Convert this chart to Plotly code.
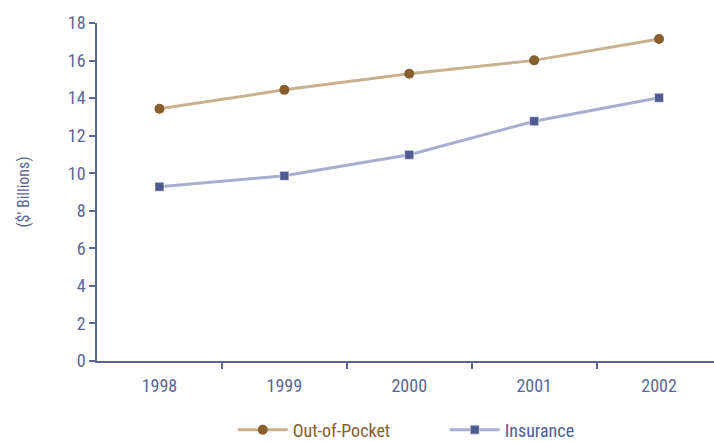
import plotly.graph_objects as go

# Spending by payer, 1998-2002 ($ billions)
years = [1998, 1999, 2000, 2001, 2002]
year_labels = ["1998", "1999", "2000", "2001", "2002"]
out_of_pocket = [13.43, 14.44, 15.30, 16.01, 17.15]
insurance = [9.28, 9.86, 10.98, 12.77, 14.02]
y_ticks = [0, 2, 4, 6, 8, 10, 12, 14, 16, 18]

AXIS = "#5a6796"
OOP_LINE = "#cbb08f"
OOP_MARK = "#87602d"
INS_LINE = "#a9aed0"
INS_MARK = "#4f5c92"
FONT = "Liberation Sans Narrow, Roboto Condensed, Arial Narrow, sans-serif"

W, H = 714, 441
ML, MR, MT, MB = 97, 0, 23, 80
plot_w = W - ML - MR

# one category band per year; the last band runs past the right edge
band_px = 124.9
x_lo = years[0] - 0.5
x_hi = x_lo + plot_w / band_px
band_edges = [y + 0.5 for y in years[:-1]]

fig = go.Figure()
fig.add_trace(go.Scatter(
    x=years, y=out_of_pocket, mode="lines+markers",
    name="<span style='color:%s'>Out-of-Pocket</span>" % OOP_MARK,
    line=dict(color=OOP_LINE, width=3),
    marker=dict(symbol="circle", size=10, color=OOP_MARK),
))
fig.add_trace(go.Scatter(
    x=years, y=insurance, mode="lines+markers",
    name="<span style='color:%s'>Insurance</span>" % INS_MARK,
    line=dict(color=INS_LINE, width=3),
    marker=dict(symbol="square", size=9, color=INS_MARK,
                line=dict(color="white", width=0.5)),
))

fig.update_layout(
    width=W, height=H,
    margin=dict(l=ML, r=MR, t=MT, b=MB, autoexpand=False),
    paper_bgcolor="white", plot_bgcolor="white",
    font=dict(family=FONT, color=AXIS, size=18),
    showlegend=True,
    legend=dict(
        orientation="h", xref="paper", x=0.22, xanchor="left",
        yref="container", y=0.025, yanchor="middle",
        font=dict(size=18, family=FONT), itemwidth=50, entrywidth=147,
        tracegroupgap=0, bgcolor="rgba(0,0,0,0)",
    ),
    xaxis=dict(
        range=[x_lo, x_hi], showgrid=False, zeroline=False,
        showline=True, linecolor=AXIS, linewidth=1.5,
        tickmode="array", tickvals=years, ticktext=year_labels, ticks="",
        ticklabelstandoff=8,
        minor=dict(tickmode="array", tickvals=band_edges, ticks="outside",
                   ticklen=6, tickcolor=AXIS, tickwidth=1.5, showgrid=False),
        tickfont=dict(size=18, color=AXIS, family=FONT),
    ),
    yaxis=dict(
        range=[0, 18], showgrid=False, zeroline=False,
        showline=True, linecolor=AXIS, linewidth=1.5,
        tickmode="array", tickvals=y_ticks, ticks="outside",
        ticklen=6, tickcolor=AXIS, tickwidth=1.5,
        tickfont=dict(size=18, color=AXIS, family=FONT),
        title=dict(text="($' Billions)", standoff=34,
                   font=dict(size=16, color=AXIS, family=FONT)),
    ),
)

fig.write_html("out.html")
